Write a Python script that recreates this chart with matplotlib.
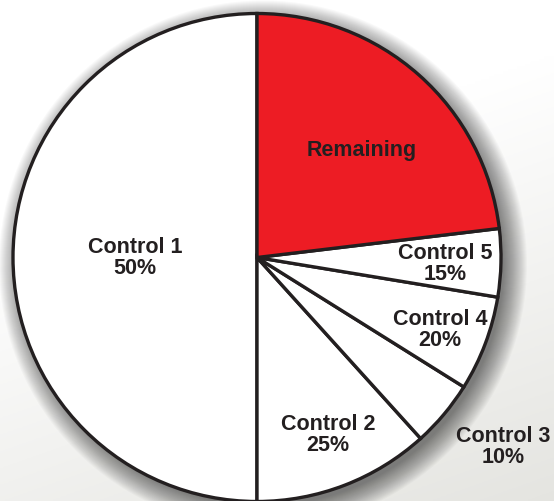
import numpy as np
import matplotlib.pyplot as plt
from matplotlib.patches import Circle

plt.rcParams['font.family'] = ['Liberation Sans', 'DejaVu Sans']

# wedge shares (% of whole circle), counter-clockwise from the top
names = ['Control 1', 'Control 2', 'Control 3', 'Control 4', 'Control 5', 'Remaining']
shares = [50.0, 11.7, 4.4, 6.3, 4.5, 23.1]
pct_labels = ['50%', '25%', '10%', '20%', '15%', '']
colors = ['white', 'white', 'white', 'white', 'white', '#ED1C24']

W, H = 554, 501
fig = plt.figure(figsize=(W / 100, H / 100), dpi=100)
ax = fig.add_axes([0, 0, 1, 1])

# background: white, fading to a light warm grey toward the bottom right
gx, gy = np.meshgrid(np.linspace(0, 1, 200), np.linspace(0, 1, 200))
grad = np.clip(gy * 0.9 + gx * 0.35 - 0.45, 0, 1)
bg = np.ones((200, 200, 3))
bg[..., 0] -= 0.13 * grad
bg[..., 1] -= 0.13 * grad
bg[..., 2] -= 0.15 * grad
ax.imshow(bg, extent=[0, W, 0, H], origin='upper', zorder=0, aspect='auto')

cx, cy, r = 257, 243.5, 244

# soft drop shadow, offset down-right
for i in range(24):
    ax.add_patch(Circle((cx + 6, cy - 7), r + 20 - i, color='black',
                        alpha=0.022, lw=0, zorder=1))

wedges, _ = ax.pie(shares, colors=colors, startangle=90, counterclock=True,
                   radius=r, center=(cx, cy), frame=True,
                   wedgeprops=dict(edgecolor='#231F20', linewidth=2.4))
for w in wedges:
    w.set_zorder(2)
ax.set_xlim(0, W)
ax.set_ylim(0, H)
ax.set_aspect('equal')
ax.axis('off')

# label positions in pixel coords (x, y from top)
label_pos = [(135, 258), (328, 435), (503, 447), (440, 330), (445, 264), (362, 150)]
for name, pct, (px, py) in zip(names, pct_labels, label_pos):
    txt = name if not pct else name + '\n' + pct
    ax.text(px, H - py, txt, ha='center', va='center', fontsize=15.5,
            fontweight='bold', color='#231F20', linespacing=1.0, zorder=5)

fig.savefig('out.png', dpi=100)
